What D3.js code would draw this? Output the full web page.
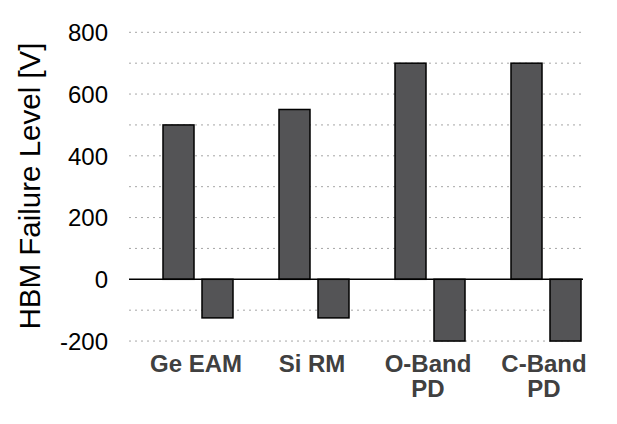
<!DOCTYPE html>
<html>
<head>
<meta charset="utf-8">
<script src="https://cdn.jsdelivr.net/npm/d3@7"></script>
<style>
  html, body { margin: 0; padding: 0; background: #fff; }
  svg { display: block; font-family: "Liberation Sans", Arial, sans-serif; }
</style>
</head>
<body>
<svg id="chart" width="617" height="424"></svg>
<script>
// ---- data ----
const categories = ["Ge EAM", "Si RM", "O-Band PD", "C-Band PD"];
const categoryLines = [["Ge EAM"], ["Si RM"], ["O-Band", "PD"], ["C-Band", "PD"]];
const seriesNames = ["positive", "negative"];
const positiveValues = [500, 550, 700, 700];
const negativeValues = [-125, -125, -200, -200];
const yTickLabels = [-200, 0, 200, 400, 600, 800];
const yGridValues = [-200, -100, 100, 200, 300, 400, 500, 600, 700, 800];
const yTitle = "HBM Failure Level [V]";

// ---- layout ----
const svg = d3.select("#chart");
const plotLeft = 129, plotRight = 583;
const y = d3.scaleLinear().domain([-200, 800]).range([341.05, 32.3]);
const x = d3.scaleBand().domain(categories).range([140, 604]).paddingInner(0).paddingOuter(0);
const xSub = d3.scaleBand().domain(seriesNames).range([23, 93]).paddingInner(0.205).paddingOuter(0);

// gridlines
svg.append("g").selectAll("line").data(yGridValues).join("line")
  .attr("x1", plotLeft).attr("x2", plotRight)
  .attr("y1", d => y(d)).attr("y2", d => y(d))
  .attr("stroke", "#a6a6a6").attr("stroke-width", 1)
  .attr("stroke-dasharray", "2,4");

// y axis labels
const yAxis = d3.axisLeft(y).tickValues(yTickLabels).tickSize(0).tickPadding(0).tickFormat(d => String(d));
const yg = svg.append("g").attr("transform", "translate(108,0)").call(yAxis);
yg.select(".domain").remove();
yg.selectAll("text")
  .attr("font-size", 24).attr("fill", "#000")
  .attr("font-family", "'Liberation Sans', Arial, sans-serif")
  .attr("dy", "0.35em").attr("x", 0);

// y title
svg.append("text")
  .attr("transform", "translate(39.5,186) rotate(-90)")
  .attr("text-anchor", "middle")
  .attr("font-size", 29.5).attr("fill", "#000")
  .text(yTitle);

// bars
const rows = categories.map((c, i) => [
  { cat: c, s: "positive", v: positiveValues[i] },
  { cat: c, s: "negative", v: negativeValues[i] }
]).flat();

svg.append("g").selectAll("rect").data(rows).join("rect")
  .attr("x", d => x(d.cat) + xSub(d.s))
  .attr("width", xSub.bandwidth())
  .attr("y", d => y(Math.max(0, d.v)))
  .attr("height", d => Math.abs(y(d.v) - y(0)))
  .attr("fill", "#545456")
  .attr("stroke", "#000").attr("stroke-width", 1.5);

// baseline
svg.append("line")
  .attr("x1", plotLeft).attr("x2", plotRight)
  .attr("y1", y(0)).attr("y2", y(0))
  .attr("stroke", "#000").attr("stroke-width", 1.5);

// category labels
const lab = svg.append("g").selectAll("text").data(categories).join("text")
  .attr("text-anchor", "middle")
  .attr("font-size", 24).attr("font-weight", "bold").attr("fill", "#404040")
  .attr("transform", d => `translate(${x(d) + x.bandwidth() / 2 - 2},371.5)`);
lab.each(function(d, i) {
  d3.select(this).selectAll("tspan").data(categoryLines[i]).join("tspan")
    .attr("x", 0).attr("y", (t, j) => j * 25)
    .text(t => t);
});
</script>
</body>
</html>
